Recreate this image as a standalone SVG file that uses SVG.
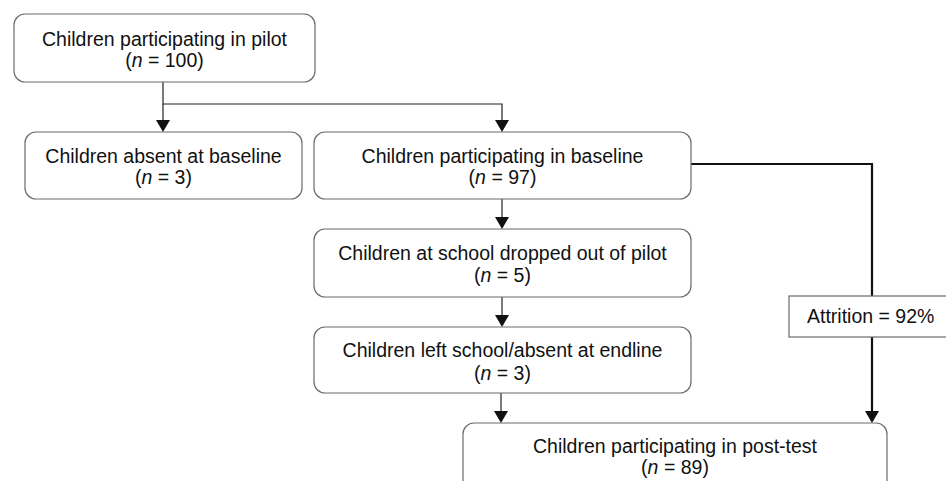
<svg xmlns="http://www.w3.org/2000/svg" width="946" height="481" viewBox="0 0 946 481">
<defs>
<marker id="arr" markerUnits="userSpaceOnUse" markerWidth="14" markerHeight="12" refX="7" refY="12" orient="auto-start-reverse" viewBox="0 0 14 12">
<path d="M0,0 L14,0 L7,12 Z" fill="#111"/>
</marker>
<style>
.box{fill:#fff;stroke:#6b6b6b;stroke-width:1.2}
.t{font-family:"Liberation Sans",Arial,sans-serif;font-size:19.5px;fill:#111;text-anchor:middle}
.c{fill:none;stroke:#222;stroke-width:1.2}
.ct{fill:none;stroke:#111;stroke-width:2.2}
</style>
</defs>
<rect width="946" height="481" fill="#fff"/>
<g id="connectors">
<path class="c" d="M163,82 V104 H502 V120"/>
<path class="c" d="M163,104 V120"/>
<polygon points="156,120 170,120 163,132" fill="#111"/>
<polygon points="495,120 509,120 502,132" fill="#111"/>
<path class="c" d="M502,199 V217"/>
<polygon points="495,217 509,217 502,229" fill="#111"/>
<path class="c" d="M502,297 V315"/>
<polygon points="495,315 509,315 502,327" fill="#111"/>
<path class="c" d="M501,393 V411"/>
<polygon points="494,411 508,411 501,423" fill="#111"/>
<path class="ct" d="M691,164 H872 V411"/>
<polygon points="865,411 879,411 872,423" fill="#111"/>
</g>
<g id="n1">
<rect class="box" x="14" y="14" width="301" height="68" rx="11"/>
<text class="t" x="164.5" y="46">Children participating in pilot</text>
<text class="t" x="164.5" y="67">(<tspan font-style="italic">n</tspan> = 100)</text>
</g>
<g id="n2">
<rect class="box" x="25" y="132" width="277" height="67" rx="11"/>
<text class="t" x="163.5" y="163">Children absent at baseline</text>
<text class="t" x="163.5" y="184">(<tspan font-style="italic">n</tspan> = 3)</text>
</g>
<g id="n3">
<rect class="box" x="314" y="132" width="377" height="67" rx="11"/>
<text class="t" x="502.5" y="163">Children participating in baseline</text>
<text class="t" x="502.5" y="184">(<tspan font-style="italic">n</tspan> = 97)</text>
</g>
<g id="n4">
<rect class="box" x="314" y="229" width="377" height="68" rx="11"/>
<text class="t" x="502.5" y="260">Children at school dropped out of pilot</text>
<text class="t" x="502.5" y="282">(<tspan font-style="italic">n</tspan> = 5)</text>
</g>
<g id="n5">
<rect class="box" x="314" y="327" width="377" height="66" rx="11"/>
<text class="t" x="502.5" y="357">Children left school/absent at endline</text>
<text class="t" x="502.5" y="380">(<tspan font-style="italic">n</tspan> = 3)</text>
</g>
<g id="n6">
<rect class="box" x="463" y="423" width="424" height="80" rx="11"/>
<text class="t" x="675" y="453">Children participating in post-test</text>
<text class="t" x="675" y="474">(<tspan font-style="italic">n</tspan> = 89)</text>
</g>
<g id="attrition">
<rect class="box" x="789" y="296" width="170" height="41"/>
<text class="t" x="807" y="323" text-anchor="start" style="text-anchor:start">Attrition = 92%</text>
</g>
</svg>
